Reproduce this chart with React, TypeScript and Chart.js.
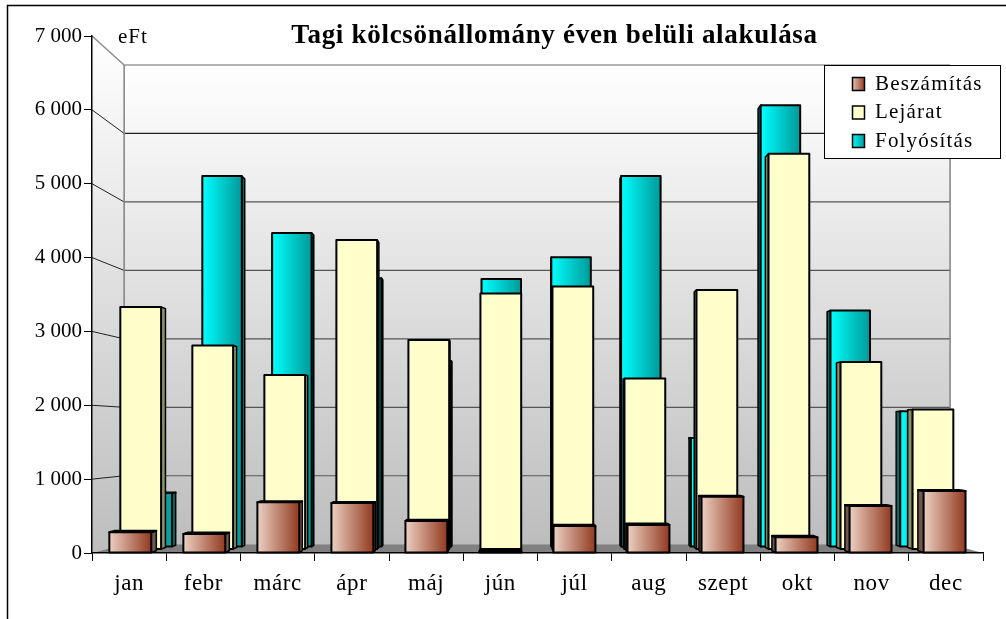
import React, { useEffect, useRef } from "react";
import { Chart, registerables } from "chart.js";

Chart.register(...registerables);

const months = ["jan", "febr", "márc", "ápr", "máj", "jún", "júl", "aug", "szept", "okt", "nov", "dec"];
const beszamitas = [280, 257, 686, 677, 433, 20, 365, 380, 762, 212, 636, 840];
const lejarat = [3383, 2846, 2434, 4319, 2923, 3572, 3669, 2386, 3620, 5524, 2616, 1952];
const folyositas = [769, 5287, 4475, 3832, 2651, 3818, 4130, 5287, 1553, 6296, 3371, 1936];
const seriesLabels = ["Beszámítás", "Lejárat", "Folyósítás"];
const titleText = "Tagi kölcsönállomány éven belüli alakulása";
const unitText = "eFt";

const FONT = "'Liberation Serif', 'Times New Roman', serif";
const VP = { x: 515, y: 433 };
const WALL_VP = { x: 532, y: 433 };
const BACK = 0.927;
const rows = [
  { sx1: 0.997, sx2: 0.983, s1: 1, s2: 0.985, c1: "#ecd0c2", c2: "#923a20", side: "#6e5750", top: "#000" },
  { sx1: 0.97, sx2: 0.958, s1: 0.97, s2: 0.958, c1: "#ffffcc", c2: "#ffffcc", side: "#8f8f6c", top: "#000" },
  { sx1: 0.94, sx2: 0.93, s1: 0.95, s2: 0.94, c1: "#00ffff", c2: "#009999", side: "#006a6a", top: "#000" },
];

const pr = (x: number, y: number, sx: number, sy: number): [number, number] => [VP.x + (x - VP.x) * sx, VP.y + (y - VP.y) * sy];
const prw = (x: number, y: number): [number, number] => [WALL_VP.x + (x - WALL_VP.x) * BACK, WALL_VP.y + (y - WALL_VP.y) * BACK];

function poly(ctx: CanvasRenderingContext2D, pts: [number, number][], fill: string | CanvasGradient, stroke = "#000", lw = 1.5) {
  ctx.beginPath();
  pts.forEach((p, i) => (i ? ctx.lineTo(p[0], p[1]) : ctx.moveTo(p[0], p[1])));
  ctx.closePath();
  ctx.fillStyle = fill;
  ctx.fill();
  ctx.lineWidth = lw;
  ctx.strokeStyle = stroke;
  ctx.lineJoin = "round";
  ctx.stroke();
}

function seg(ctx: CanvasRenderingContext2D, a: [number, number], b: [number, number], color: string, lw: number) {
  ctx.beginPath();
  ctx.moveTo(a[0], a[1]);
  ctx.lineTo(b[0], b[1]);
  ctx.strokeStyle = color;
  ctx.lineWidth = lw;
  ctx.stroke();
}

function spaced(obj: any, method: string, px: string) {
  if (obj["__sp" + method]) return;
  obj["__sp" + method] = true;
  const orig = obj[method];
  obj[method] = function (...args: any[]) {
    const ctx = this.ctx as any;
    const prev = ctx.letterSpacing;
    ctx.letterSpacing = px;
    const r = orig.apply(this, args);
    ctx.letterSpacing = prev;
    return r;
  };
}

const scene = {
  id: "scene",
  beforeDraw(chart: any) {
    const { ctx, chartArea: a, scales } = chart;
    const y = scales.y;
    ctx.save();
    ctx.fillStyle = "#fff";
    ctx.fillRect(0, 0, chart.width, chart.height);
    // outer frame
    ctx.strokeStyle = "#000";
    ctx.lineWidth = 1.5;
    ctx.beginPath();
    ctx.moveTo(7.5, chart.height);
    ctx.lineTo(7.5, 5.5);
    ctx.lineTo(chart.width, 5.5);
    ctx.stroke();

    const tl = prw(a.left, a.top);
    const tr = prw(a.right, a.top);
    const bl = prw(a.left, a.bottom);
    const br = prw(a.right, a.bottom);
    const g = ctx.createLinearGradient(0, tl[1], 0, bl[1]);
    g.addColorStop(0, "#ffffff");
    g.addColorStop(1, "#bdbdbd");
    ctx.fillStyle = g;
    ctx.fillRect(tl[0], tl[1], tr[0] - tl[0], bl[1] - tl[1]);
    const g2 = ctx.createLinearGradient(0, a.top, 0, a.bottom);
    g2.addColorStop(0, "#ffffff");
    g2.addColorStop(1, "#bdbdbd");
    ctx.beginPath();
    ctx.moveTo(a.left, a.top);
    ctx.lineTo(tl[0], tl[1]);
    ctx.lineTo(bl[0], bl[1]);
    ctx.lineTo(a.left, a.bottom);
    ctx.closePath();
    ctx.fillStyle = g2;
    ctx.fill();
    // floor
    ctx.beginPath();
    ctx.moveTo(a.left, a.bottom);
    ctx.lineTo(bl[0], bl[1]);
    ctx.lineTo(br[0], br[1]);
    ctx.lineTo(a.right, a.bottom);
    ctx.closePath();
    ctx.fillStyle = "#808080";
    ctx.fill();
    // gridlines
    y.ticks.forEach((t: any) => {
      if (t.value === 0) return;
      const py = y.getPixelForValue(t.value);
      const p0: [number, number] = [a.left, py];
      const p1 = prw(a.left, py);
      const p2 = prw(a.right, py);
      const top = t.value === 7000;
      seg(ctx, p0, p1, top ? "#8c8c8c" : "#222", top ? 1.5 : 1);
      seg(ctx, p1, p2, top ? "#9a9a9a" : t.value === 6000 ? "#222" : "#555", top ? 1.5 : 1.2);
    });
    seg(ctx, tl, bl, "#808080", 1.5);
    seg(ctx, tr, br, "#808080", 1.5);
    // legend box
    ctx.fillStyle = "#fff";
    ctx.fillRect(824.5, 65.5, 176, 93);
    ctx.strokeStyle = "#000";
    ctx.lineWidth = 1;
    ctx.strokeRect(824.5, 65.5, 176, 93);
    // unit label
    ctx.fillStyle = "#000";
    ctx.font = `21px ${FONT}`;
    ctx.textAlign = "left";
    ctx.textBaseline = "middle";
    ctx.letterSpacing = "1px";
    ctx.fillText(unitText, 118, 37);
    ctx.restore();
  },
  afterLayout(chart: any) {
    const lg = chart.legend;
    lg.left = 845;
    lg.right = 1000;
    lg.top = 66;
    lg.bottom = 175;
    lg.width = 155;
    lg.height = 109;
    spaced(lg, "draw", "1.2px");
    const t = chart.titleBlock;
    t.left = 289;
    t.right = 820;
    t.width = 531;
    t.top = 20;
    t.bottom = 52;
    spaced(t, "draw", "0.7px");
    spaced(chart.scales.x, "drawLabels", "0.6px");
  },
  beforeDatasetDraw(chart: any, args: any) {
    const { ctx } = chart;
    const r = rows[args.index];
    ctx.save();
    args.meta.data.forEach((el: any) => {
      const w = el.width / 2;
      const xl = el.x - w;
      const xr = el.x + w;
      const yt = el.y;
      const yb = el.base;
      const A = pr(xl, yt, r.sx1, r.s1);
      const B = pr(xr, yt, r.sx1, r.s1);
      const C = pr(xr, yb, r.sx1, r.s1);
      const D = pr(xl, yb, r.sx1, r.s1);
      const A2 = pr(xl, yt, r.sx2, r.s2);
      const B2 = pr(xr, yt, r.sx2, r.s2);
      const C2 = pr(xr, yb, r.sx2, r.s2);
      const D2 = pr(xl, yb, r.sx2, r.s2);
      if (B[0] < VP.x) poly(ctx, [B, B2, C2, C], r.side);
      if (A[0] > VP.x) poly(ctx, [A, A2, D2, D], r.side);
      if (yt > VP.y) poly(ctx, [A, A2, B2, B], r.top, "#000", 2);
      const g = ctx.createLinearGradient(A[0], 0, B[0], 0);
      g.addColorStop(0, r.c1);
      g.addColorStop(1, r.c2);
      poly(ctx, [A, B, C, D], g, "#000", 2);
    });
    ctx.restore();
    return false;
  },
};

export default function App() {
  const ref = useRef<HTMLCanvasElement>(null);
  useEffect(() => {
    document.body.style.margin = "0";
    const canvas = ref.current!;
    const ctx = canvas.getContext("2d")!;
    const swatch = (a: string, b: string) => {
      const g = ctx.createLinearGradient(851, 0, 865, 0);
      g.addColorStop(0, a);
      g.addColorStop(1, b);
      return g;
    };
    const chart = new Chart(canvas, {
      type: "bar",
      data: {
        labels: months,
        datasets: [
          { label: seriesLabels[0], data: beszamitas, backgroundColor: "#c08a78" },
          { label: seriesLabels[1], data: lejarat, backgroundColor: "#ffffcc" },
          { label: seriesLabels[2], data: folyositas, backgroundColor: "#00cccc" },
        ],
      },
      plugins: [scene],
      options: {
        responsive: false,
        animation: false,
        layout: { padding: { top: 0, right: 23, left: 0, bottom: 0 } },
        datasets: { bar: { grouped: false, categoryPercentage: 1, barPercentage: 0.566 } },
        plugins: {
          title: {
            display: true,
            text: titleText,
            color: "#000",
            font: { family: FONT, size: 27, weight: "bold", lineHeight: 1.2 },
            padding: { top: 0, bottom: 3.6 },
          },
          tooltip: { enabled: false },
          legend: {
            display: true,
            position: "chartArea",
            align: "start",
            labels: {
              font: { family: FONT, size: 21 },
              color: "#000",
              boxWidth: 12,
              boxHeight: 13,
              padding: 7.5,
              generateLabels: () =>
                seriesLabels.map((text, i) => ({
                  text,
                  fillStyle: swatch(rows[i].c1, rows[i].c2),
                  strokeStyle: "#000",
                  lineWidth: 1.5,
                  datasetIndex: i,
                })),
            },
          },
        },
        scales: {
          x: {
            offset: true,
            afterFit: (s: any) => {
              s.height = 66;
            },
            grid: { drawOnChartArea: false, offset: true, tickLength: 8, color: "#000" },
            border: { color: "#000", width: 1.5 },
            ticks: { color: "#000", font: { family: FONT, size: 23 }, padding: 9, maxRotation: 0, autoSkip: false },
          },
          y: {
            min: 0,
            max: 7000,
            afterFit: (s: any) => {
              s.width = 92;
            },
            grid: { drawOnChartArea: false, tickLength: 8, color: "#000" },
            border: { color: "#000", width: 1.5 },
            ticks: {
              stepSize: 1000,
              color: "#000",
              font: { family: FONT, size: 21 },
              padding: 2,
              callback: (v: any) => (v === 0 ? "0" : `${Math.floor(v / 1000)} 000`),
            },
          },
        },
      },
    } as any);
    return () => chart.destroy();
  }, []);
  return (
    <div style={{ position: "absolute", left: 0, top: 0, width: 1006, height: 619 }}>
      <canvas ref={ref} width={1006} height={619} style={{ display: "block" }} />
    </div>
  );
}
